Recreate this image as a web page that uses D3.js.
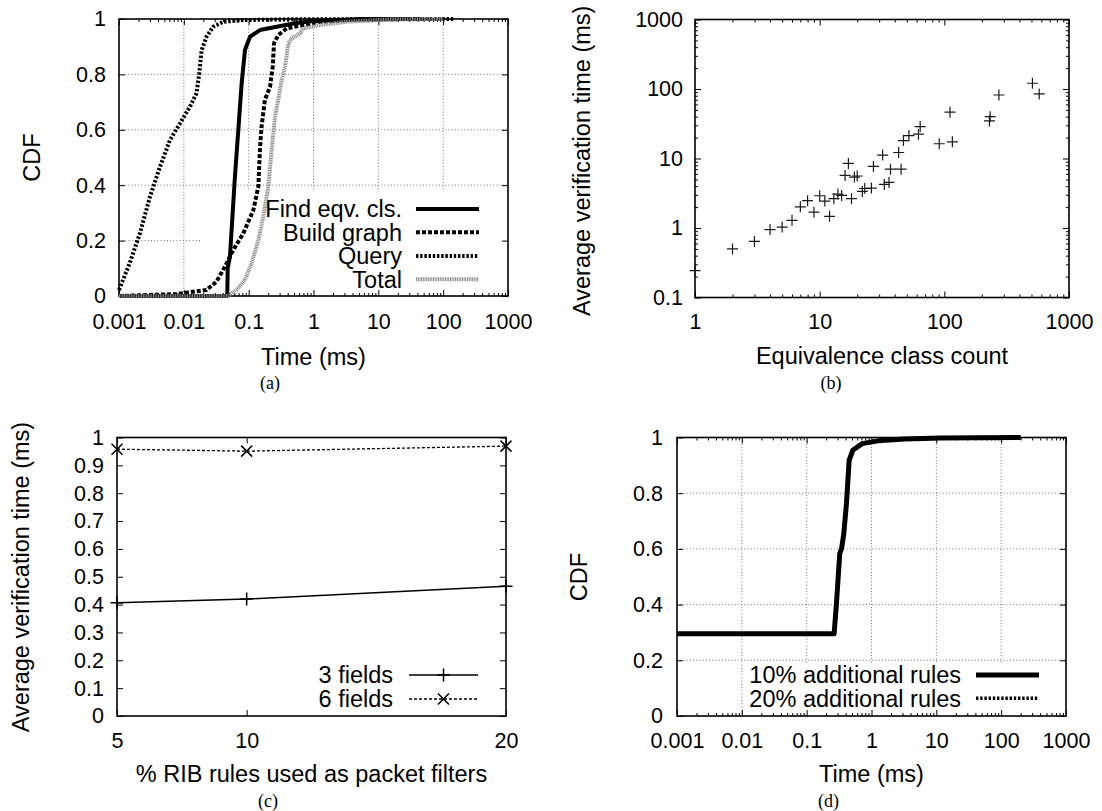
<!DOCTYPE html>
<html>
<head>
<meta charset="utf-8">
<script src="https://cdn.jsdelivr.net/npm/d3@7"></script>
<style>
  body { margin: 0; background: #fff; }
</style>
</head>
<body>
<div id="chart"></div>
<script>
// ---- (a) CDF of per-stage time (ms) ----
let findX  = [0.001, 0.0467, 0.0475, 0.0514, 0.0614, 0.078, 0.0877, 0.105, 0.149, 0.27, 0.49, 0.99, 5, 30];
let findY  = [0, 0, 0.1, 0.142, 0.43, 0.768, 0.888, 0.936, 0.96, 0.972, 0.984, 0.993, 0.999, 1];
let buildX = [0.001, 0.0077, 0.0224, 0.032, 0.043, 0.0578, 0.0826, 0.118, 0.141, 0.149, 0.158, 0.178, 0.214, 0.235, 0.246, 0.286, 0.386, 0.69, 1.25, 5.2, 60];
let buildY = [0, 0.007, 0.022, 0.052, 0.106, 0.166, 0.226, 0.31, 0.395, 0.527, 0.611, 0.708, 0.756, 0.828, 0.912, 0.942, 0.966, 0.978, 0.99, 0.999, 1];
let queryX = [0.001, 0.00146, 0.0021, 0.003, 0.0043, 0.0061, 0.0087, 0.0124, 0.0157, 0.0173, 0.0188, 0.0224, 0.0284, 0.0405, 0.0826, 0.49, 150];
let queryY = [0.022, 0.118, 0.226, 0.358, 0.467, 0.563, 0.623, 0.683, 0.732, 0.804, 0.888, 0.936, 0.972, 0.99, 0.996, 0.999, 1];
let totalX = [0.001, 0.0484, 0.065, 0.0877, 0.111, 0.141, 0.168, 0.201, 0.226, 0.255, 0.286, 0.323, 0.364, 0.41, 0.462, 0.62, 0.69, 1.25, 3.2, 17, 100];
let totalY = [0, 0, 0.022, 0.058, 0.118, 0.202, 0.286, 0.395, 0.527, 0.647, 0.708, 0.78, 0.828, 0.912, 0.93, 0.948, 0.966, 0.978, 0.99, 0.999, 1];
let stageNames = ["Find eqv. cls.", "Build graph", "Query", "Total"];

// ---- (b) avg verification time vs equivalence class count ----
let eqClassCount = [1, 2, 3, 4, 5, 6, 7, 8, 9, 10, 11, 12, 13, 14, 15, 16, 17, 18, 19, 20,
                    22, 23, 26, 27, 32, 33, 36, 37, 43, 45, 47, 52, 62, 64, 91, 111, 116, 230, 233, 274, 509, 577];
let avgVerifTime = [0.244, 0.5, 0.64, 0.95, 1.03, 1.29, 2.02, 2.47, 1.69, 2.91, 2.44, 1.47, 2.64, 3.08, 2.94, 5.7, 8.5, 2.64, 5.4, 5.6,
                    3.36, 3.7, 3.75, 7.7, 11.2, 4.24, 4.52, 7.03, 12.2, 7.03, 18.1, 21.4, 22.4, 28.8, 16.3, 46.4, 17.4, 34.7, 40, 82, 121, 85];

// ---- (c) avg verification time vs % RIB rules used as filters ----
let ribPct   = [5, 10, 20];
let fields3  = [0.407, 0.42, 0.466];
let fields6  = [0.958, 0.951, 0.969];
let fieldNames = ["3 fields", "6 fields"];

// ---- (d) CDF of time with additional rules ----
let add10X = [0.001, 0.265, 0.288, 0.324, 0.345, 0.374, 0.411, 0.452, 0.514, 0.718, 1.25, 3.3, 11.3, 200];
let add10Y = [0.295, 0.295, 0.404, 0.584, 0.6, 0.655, 0.763, 0.918, 0.954, 0.978, 0.988, 0.995, 0.998, 1];
let add20X = [0.001, 0.265, 0.288, 0.324, 0.345, 0.374, 0.411, 0.452, 0.514, 0.718, 1.25, 3.3, 11.3, 200];
let add20Y = [0.295, 0.295, 0.404, 0.584, 0.6, 0.655, 0.763, 0.918, 0.954, 0.978, 0.988, 0.995, 0.998, 1];
let addNames = ["10% additional rules", "20% additional rules"];

// tick values
let timeTicks = [0.001, 0.01, 0.1, 1, 10, 100, 1000];
let cdfTicks  = [0, 0.2, 0.4, 0.6, 0.8, 1];
let countTicks = [1, 10, 100, 1000];
let logTimeTicks = [0.1, 1, 10, 100, 1000];
let ribTicks = [5, 10, 20];
let linTimeTicks = [0, 0.1, 0.2, 0.3, 0.4, 0.5, 0.6, 0.7, 0.8, 0.9, 1];


let svg = d3.select('#chart').append('svg')
    .attr('width', 1102)
    .attr('height', 811);

let FONT = '"Liberation Sans", Arial, Helvetica, sans-serif';
let SERIF = '"Liberation Serif", "Times New Roman", serif';
let fmt = d3.format('~g');

let A = {x0: 119, x1: 508, y0: 19, y1: 296};
let B = {x0: 695, x1: 1069, y0: 19.5, y1: 297.5};
let C = {x0: 117, x1: 506, y0: 437.5, y1: 716};
let D = {x0: 677, x1: 1066, y0: 437.5, y1: 716};

// minor ticks of a log axis = the scale's own ticks minus the decades
function minorOf(scale, majors) {
    return scale.ticks().filter(t => majors.indexOf(+t.toPrecision(6)) < 0);
}

function drawAxes(box, sx, sy, o) {
    let g = svg.append('g');
    let bottom = g.append('g').attr('transform', `translate(0,${box.y1})`)
        .call(d3.axisBottom(sx).tickValues(o.xMajor).tickSize(-6).tickFormat(fmt));
    bottom.selectAll('text').attr('y', o.xLab).attr('dy', null);
    g.append('g').attr('transform', `translate(0,${box.y0})`)
        .call(d3.axisTop(sx).tickValues(o.xMajor).tickSize(-6).tickFormat(''));
    let left = g.append('g').attr('transform', `translate(${box.x0},0)`)
        .call(d3.axisLeft(sy).tickValues(o.yMajor).tickSize(-6).tickFormat(fmt));
    left.selectAll('text').attr('x', -o.yLab);
    g.append('g').attr('transform', `translate(${box.x1},0)`)
        .call(d3.axisRight(sy).tickValues(o.yMajor).tickSize(-6).tickFormat(''));

    if (o.xMinor) {
        g.append('g').attr('transform', `translate(0,${box.y1})`)
            .call(d3.axisBottom(sx).tickValues(o.xMinor).tickSize(-3).tickFormat(''));
        g.append('g').attr('transform', `translate(0,${box.y0})`)
            .call(d3.axisTop(sx).tickValues(o.xMinor).tickSize(-3).tickFormat(''));
    }
    if (o.yMinor) {
        g.append('g').attr('transform', `translate(${box.x0},0)`)
            .call(d3.axisLeft(sy).tickValues(o.yMinor).tickSize(-3).tickFormat(''));
        g.append('g').attr('transform', `translate(${box.x1},0)`)
            .call(d3.axisRight(sy).tickValues(o.yMinor).tickSize(-3).tickFormat(''));
    }
    g.selectAll('.domain').remove();
    g.selectAll('.tick line').attr('stroke', '#000').attr('stroke-width', 1);
    g.selectAll('text')
        .attr('font-family', FONT)
        .attr('font-size', 21.5)
        .attr('fill', '#000');

    g.append('rect')
        .attr('x', box.x0).attr('y', box.y0)
        .attr('width', box.x1 - box.x0).attr('height', box.y1 - box.y0)
        .attr('fill', 'none').attr('stroke', '#000').attr('stroke-width', 1.6);
}

function drawGrid(box, sx, sy, xv, yv) {
    let g = svg.append('g');
    g.selectAll(null).data(xv).join('line')
        .attr('x1', d => sx(d)).attr('x2', d => sx(d))
        .attr('y1', box.y0).attr('y2', box.y1);
    g.selectAll(null).data(yv).join('line')
        .attr('x1', box.x0).attr('x2', box.x1)
        .attr('y1', d => sy(d)).attr('y2', d => sy(d));
    g.selectAll('line').attr('stroke', '#666').attr('stroke-width', 0.9)
        .attr('stroke-dasharray', '1,2.2');
}

function text(x, y, str, size, anchor, rot, family) {
    let t = svg.append('text')
        .attr('transform', `translate(${x},${y})` + (rot ? ' rotate(-90)' : ''))
        .attr('font-family', family || FONT)
        .attr('font-size', size)
        .attr('text-anchor', anchor || 'middle')
        .attr('fill', '#000')
        .text(str);
    if (rot) t.attr('dy', '0.35em');
    return t;
}

function curve(sx, sy, xs, ys, style) {
    svg.append('path')
        .datum(d3.zip(xs, ys))
        .attr('d', d3.line().x(d => sx(d[0])).y(d => sy(d[1])))
        .attr('fill', 'none')
        .attr('stroke', style.color)
        .attr('stroke-width', style.width)
        .attr('stroke-dasharray', style.dash)
        .attr('stroke-linejoin', 'round');
}

function legendLine(x1, x2, y, style) {
    svg.append('line')
        .attr('x1', x1).attr('x2', x2).attr('y1', y).attr('y2', y)
        .attr('stroke', style.color)
        .attr('stroke-width', style.width)
        .attr('stroke-dasharray', style.dash);
}

let plusPath = s => `M${-s},0H${s}M0,${-s}V${s}`;
let crossPath = s => `M${-s},${-s}L${s},${s}M${-s},${s}L${s},${-s}`;

// ================= (a) =================
let xA = d3.scaleLog().domain([0.001, 1000]).range([A.x0, A.x1]);
let yA = d3.scaleLinear().domain([0, 1]).range([A.y1, A.y0]);

drawGrid(A, xA, yA, timeTicks.slice(1, -1), cdfTicks.slice(1, -1));
// opaque key background hides the grid
svg.append('rect').attr('x', 202).attr('y', 192).attr('width', 305).attr('height', 103).attr('fill', '#fff');
drawAxes(A, xA, yA, {xMajor: timeTicks, yMajor: cdfTicks, xMinor: minorOf(xA, timeTicks), xLab: 32.5, yLab: 13});

let stylesA = [
    {color: '#000', width: 4, dash: null},
    {color: '#000', width: 4, dash: '4,2'},
    {color: '#000', width: 4, dash: '2.4,1.8'},
    {color: '#8a8a8a', width: 4, dash: '1,0.7'}
];
curve(xA, yA, findX, findY, stylesA[0]);
curve(xA, yA, buildX, buildY, stylesA[1]);
curve(xA, yA, queryX, queryY, stylesA[2]);
curve(xA, yA, totalX, totalY, stylesA[3]);

let legYA = [209, 232.3, 256, 279.3];
stageNames.forEach((n, i) => {
    text(402, legYA[i], n, 23.5, 'end').attr('dy', '0.35em');
    legendLine(416, 479, legYA[i], stylesA[i]);
});

text(32, 157.5, 'CDF', 23.5, 'middle', true);
text(313.5, 365, 'Time (ms)', 23.5);
text(270, 389, '(a)', 18, 'middle', false, SERIF);

// ================= (b) =================
let xB = d3.scaleLog().domain([1, 1000]).range([B.x0, B.x1]);
let yB = d3.scaleLog().domain([0.1, 1000]).range([B.y1, B.y0]);
drawAxes(B, xB, yB, {xMajor: countTicks, yMajor: logTimeTicks,
    xMinor: minorOf(xB, countTicks), yMinor: minorOf(yB, logTimeTicks), xLab: 31, yLab: 12});

svg.append('g').selectAll('path')
    .data(d3.zip(eqClassCount, avgVerifTime))
    .join('path')
    .attr('transform', d => `translate(${xB(d[0])},${yB(d[1])})`)
    .attr('d', plusPath(5.5))
    .attr('stroke', '#1a1a1a')
    .attr('stroke-width', 1.2)
    .attr('fill', 'none');

text(582, 160.8, 'Average verification time (ms)', 23.5, 'middle', true);
text(882, 364, 'Equivalence class count', 23.5);
text(831, 389, '(b)', 18, 'middle', false, SERIF);

// ================= (c) =================
let xC = d3.scaleLinear().domain([5, 20]).range([C.x0, C.x1]);
let yC = d3.scaleLinear().domain([0, 1]).range([C.y1, C.y0]);
drawAxes(C, xC, yC, {xMajor: ribTicks, yMajor: linTimeTicks, xLab: 31.5, yLab: 13});

let stylesC = [
    {color: '#000', width: 1.5, dash: null, mark: plusPath(6.5)},
    {color: '#000', width: 1.3, dash: '3,2', mark: crossPath(5.5)}
];
[fields3, fields6].forEach((ys, i) => {
    curve(xC, yC, ribPct, ys, stylesC[i]);
    svg.append('g').selectAll('path')
        .data(d3.zip(ribPct, ys))
        .join('path')
        .attr('transform', d => `translate(${xC(d[0])},${yC(d[1])})`)
        .attr('d', stylesC[i].mark)
        .attr('stroke', '#000').attr('stroke-width', 1.5).attr('fill', 'none');
});
let legYC = [675, 699];
fieldNames.forEach((n, i) => {
    text(393, legYC[i], n, 23.5, 'end').attr('dy', '0.35em');
    legendLine(409, 478, legYC[i], stylesC[i]);
    svg.append('path').attr('transform', `translate(443.5,${legYC[i]})`)
        .attr('d', stylesC[i].mark).attr('stroke', '#000').attr('stroke-width', 1.5).attr('fill', 'none');
});

text(20.5, 577, 'Average verification time (ms)', 23.5, 'middle', true);
text(311.5, 782, '% RIB rules used as packet filters', 23.5);
text(268, 807, '(c)', 18, 'middle', false, SERIF);

// ================= (d) =================
let xD = d3.scaleLog().domain([0.001, 1000]).range([D.x0, D.x1]);
let yD = d3.scaleLinear().domain([0, 1]).range([D.y1, D.y0]);
drawGrid(D, xD, yD, timeTicks.slice(1, -1), cdfTicks.slice(1, -1));
svg.append('rect').attr('x', 745).attr('y', 664).attr('width', 320).attr('height', 51).attr('fill', '#fff');
drawAxes(D, xD, yD, {xMajor: timeTicks, yMajor: cdfTicks, xMinor: minorOf(xD, timeTicks), xLab: 31.5, yLab: 14});

let stylesD = [
    {color: '#000', width: 5, dash: null},
    {color: '#000', width: 3.5, dash: '2.4,1.8'}
];
curve(xD, yD, add20X, add20Y, stylesD[1]);
curve(xD, yD, add10X, add10Y, stylesD[0]);
let legYD = [675, 698.3];
addNames.forEach((n, i) => {
    text(961, legYD[i], n, 23.5, 'end').attr('dy', '0.35em');
    legendLine(976, 1039, legYD[i], stylesD[i]);
});

text(579, 577, 'CDF', 23.5, 'middle', true);
text(871.5, 782, 'Time (ms)', 23.5);
text(828.5, 807, '(d)', 18, 'middle', false, SERIF);
</script>
</body>
</html>
